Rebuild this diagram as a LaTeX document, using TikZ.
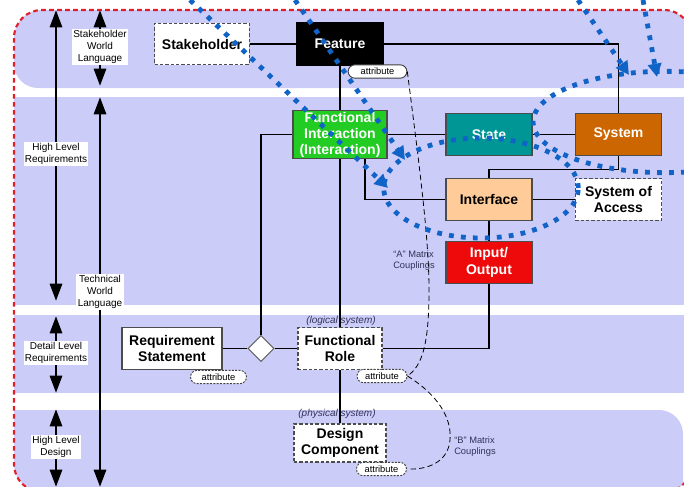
\documentclass[tikz,border=0pt]{standalone}
\usepackage{fontspec}
\setmainfont{Liberation Sans}
\usetikzlibrary{arrows.meta,shapes.geometric,shapes.misc}

\definecolor{bandblue}{RGB}{204,204,248}
\definecolor{borderred}{RGB}{226,30,40}
\definecolor{dotblue}{RGB}{16,100,200}
\definecolor{fgreen}{RGB}{34,204,34}
\definecolor{stateteal}{RGB}{0,150,150}
\definecolor{sysorange}{RGB}{204,102,0}
\definecolor{ifpeach}{RGB}{255,204,153}
\definecolor{iored}{RGB}{238,10,10}
\definecolor{notegray}{RGB}{50,50,90}

\begin{document}
\begin{tikzpicture}[x=0.75pt, y=-0.75pt,
      box/.style={draw=black!70, line width=0.8pt, inner sep=1pt, align=center,
         font=\fontsize{10.5}{12.5}\selectfont\bfseries},
      dbox/.style={box, fill=white, dash pattern=on 2.5pt off 1.5pt},
      attr/.style={rounded rectangle, draw=black!75, fill=white, line width=0.7pt,
         minimum width=42pt, minimum height=10pt, inner sep=0pt,
         font=\fontsize{7}{8}\selectfont},
      lvl/.style={fill=white, inner sep=1pt, align=center, font=\fontsize{7.5}{9}\selectfont},
      note/.style={text=notegray, align=left, inner sep=0pt, font=\fontsize{7}{8.5}\selectfont},
      levelarrow/.style={line width=2.2pt, {Triangle[length=13pt,width=9pt]}-{Triangle[length=13pt,width=9pt]}},
      couple/.style={line width=0.6pt, dash pattern=on 4pt off 2.5pt},
      bluedot/.style={dotblue, line width=3.6pt, dash pattern=on 3.6pt off 5.4pt},
      link/.style={line width=1pt}]

   \useasboundingbox (0,0) rectangle (684,486);
   \clip (0,0) rectangle (684,486);

   % bands
   \begin{scope}
      \clip[rounded corners=21pt] (14,10) rectangle (692,492);
      \fill[bandblue, rounded corners=18pt] (14,-40) rectangle (760,88);
      \fill[bandblue] (14,97) rectangle (700,305);
      \fill[bandblue] (14,315) rectangle (700,393);
      \fill[bandblue, rounded corners=18pt] (-40,410) rectangle (683,540);
   \end{scope}
   \draw[borderred, line width=1.6pt, dash pattern=on 3.5pt off 2.5pt, rounded corners=21pt]
      (14,10) rectangle (692,492);

   % level arrows
   \begin{scope}[name prefix = lvl-]
      \coordinate (hlr-top) at (56,10);
      \coordinate (hlr-bot) at (56,301);
      \coordinate (dlr-top) at (56,316);
      \coordinate (dlr-bot) at (56,393);
      \coordinate (hld-top) at (56,409);
      \coordinate (hld-bot) at (56,487);
      \coordinate (swl-top) at (100,10);
      \coordinate (swl-bot) at (100,86);
      \coordinate (twl-top) at (100,97);
      \coordinate (twl-bot) at (100,487);
      \draw[levelarrow] (hlr-bot) -- (hlr-top);
      \draw[levelarrow] (dlr-bot) -- (dlr-top);
      \draw[levelarrow] (hld-bot) -- (hld-top);
      \draw[levelarrow] (swl-bot) -- (swl-top);
      \draw[levelarrow] (twl-bot) -- (twl-top);
      \node[lvl] (hlr) at (56,154) {High Level\\Requirements};
      \node[lvl] (dlr) at (56,353) {Detail Level\\Requirements};
      \node[lvl] (hld) at (56,447) {High Level\\Design};
      \node[lvl] (swl) at (100,47) {Stakeholder\\World\\Language};
      \node[lvl] (twl) at (100,292) {Technical\\World\\Language};
   \end{scope}

   % elements
   \node[dbox, minimum width=71pt, minimum height=31pt] (stakeholder) at (202,44) {Stakeholder};
   \node[box, fill=black, draw=black, text=white, minimum width=65pt, minimum height=31.5pt] (feature) at (340,44) {Feature};
   \node[box, fill=fgreen, text=white, minimum width=70.5pt, minimum height=35pt,
      font=\fontsize{10.5}{12}\selectfont\bfseries] (fi) at (340,134.5) {Functional\\Interaction\\(Interaction)};
   \node[box, fill=stateteal, text=white, minimum width=64.5pt, minimum height=31pt] (state) at (489,134.5) {State};
   \node[box, fill=sysorange, text=white, minimum width=65pt, minimum height=31pt] (system) at (618.5,134.5) {System};
   \node[box, fill=ifpeach, minimum width=64.5pt, minimum height=31pt] (interface) at (489,199.5) {Interface};
   \node[dbox, minimum width=65pt, minimum height=31pt] (access) at (618.5,199.5) {System of\\Access};
   \node[box, fill=iored, text=white, minimum width=64.5pt, minimum height=31pt] (io) at (489,262.5) {Input/\\Output};
   \node[box, fill=white, minimum width=75pt, minimum height=32pt] (reqstmt) at (172,348.5) {Requirement\\Statement};
   \node[diamond, draw=black!60, fill=white, line width=0.8pt, minimum width=19.5pt, minimum height=19.5pt, inner sep=0pt] (diamond) at (261,348.5) {};
   \node[dbox, minimum width=63pt, minimum height=31.5pt] (role) at (340,348.5) {Functional\\Role};
   \node[dbox, minimum width=69pt, minimum height=28.5pt] (design) at (340,443) {Design\\Component};

   \begin{scope}[name prefix = attr-]
      \node[attr, minimum width=44pt] (feature) at (377.5,71.5) {attribute};
      \node[attr, dash pattern=on 1.5pt off 1pt] (reqstmt) at (218.5,377) {attribute};
      \node[attr, minimum width=37.5pt, dash pattern=on 1.5pt off 1pt] (role) at (382,376) {attribute};
      \node[attr, minimum width=37.5pt, dash pattern=on 1.5pt off 1pt] (design) at (381.5,469) {attribute};
   \end{scope}

   \node[note, font=\fontsize{7.5}{9}\selectfont\itshape] (logical) at (341,321) {(logical system)};
   \node[note, font=\fontsize{7.5}{9}\selectfont\itshape] (physical) at (337,414) {(physical system)};
   \node[note] (acouple) at (414,260.5) {“A” Matrix\\Couplings};
   \node[note] (bcouple) at (475,446.5) {“B” Matrix\\Couplings};

   % links
   \draw[link] (stakeholder.east) -- (feature.west);
   \draw[link] (feature.east) -| (system.north);
   \draw[link] (feature.south) -- (fi.north);
   \draw[link] (fi.south) -- (role.north);
   \draw[link] (role.south) -- (design.north);
   \draw[link] (fi.west) -| (diamond.north);
   \draw[link] (reqstmt.east) -- (diamond.west);
   \draw[link] (diamond.east) -- (role.west);
   \draw[link] (fi.east) -- (state.west);
   \draw[link] (state.east) -- (system.west);
   \draw[link] (system.south) -- ++(0,13.5) -| (interface.north);
   \draw[link] ([xshift=18.75pt]fi.south) |- (interface.west);
   \draw[link] (interface.east) -- (access.west);
   \draw[link] (interface.south) -- (io.north);
   \draw[link] (io.south) |- (role.east);

   % couplings
   \draw[couple] (attr-feature.east) .. controls (420,170) and (429,240) .. (429,290)
      .. controls (429,345) and (422,366) .. (attr-role.east);
   \draw[couple] (attr-role.east) .. controls (438,395) and (452,418) .. (450,440)
      .. controls (448,462) and (428,470) .. (attr-design.east);

   % overlay
   \begin{scope}[name prefix = mark-]
      \coordinate (a-start) at (190,0);
      \coordinate (a-end) at (388,188);
      \coordinate (b-start) at (295,0);
      \coordinate (b-end) at (405,160);
      \coordinate (c-start) at (578,0);
      \coordinate (c-end) at (629,75);
      \coordinate (d-start) at (643,0);
      \coordinate (d-end) at (657,77);
      \draw[bluedot] (665,122) ellipse [x radius=99pt, y radius=38pt];
      \draw[bluedot] (481,188) ellipse [x radius=73pt, y radius=37.5pt];
      \draw[bluedot, -{Triangle[length=10pt,width=10pt]}] (a-start) -- (a-end);
      \draw[bluedot, -{Triangle[length=10pt,width=10pt]}] (b-start) -- (b-end);
      \draw[bluedot, -{Triangle[length=10pt,width=10pt]}] (c-start) -- (c-end);
      \draw[bluedot, -{Triangle[length=10pt,width=10pt]}] (d-start) -- (d-end);
   \end{scope}
\end{tikzpicture}
\end{document}
